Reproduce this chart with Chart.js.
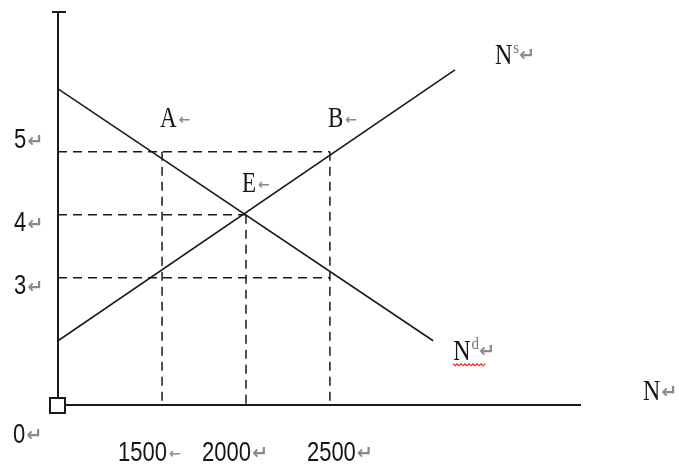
<!DOCTYPE html>
<html>
<head>
<meta charset="utf-8">
<script src="https://cdn.jsdelivr.net/npm/chart.js@4"></script>
<style>
html,body{margin:0;padding:0;background:#fff;}
#wrap{width:679px;height:466px;}
</style>
</head>
<body>
<div id="wrap"><canvas id="c" width="679" height="466"></canvas></div>
<script>
// ---- data ----
const demandX = [880, 3115];
const demandY = [6.0, 2.0];
const supplyX = [880, 3245];
const supplyY = [2.0, 6.3];
const priceLevels = [5, 4, 3];          // wage levels marked on the y axis
const priceLabels = ['5', '4', '3'];
const quantityLevels = [1500, 2000, 2500];
const quantityLabels = ['1500', '2000', '2500'];
const pointNames = ['A', 'B', 'E'];
const pointX = [1500, 2500, 2000];
const pointY = [5, 5, 4];
// dashed guide lines: horizontal lines run from the y axis to these x values
const hGuideY = [5, 4, 3];
const hGuideEndX = [2500, 2000, 2500];
// vertical guide lines run from the axis up to these y values
const vGuideX = [1500, 2000, 2500];
const vGuideTopY = [5, 4, 5];

const X_MIN = 880, X_MAX = 3990, Y_MIN = 0.98, Y_MAX = 7.22;

function seg(xs, ys) { return xs.map((x, i) => ({x: x, y: ys[i]})); }

const ink = '#1a1a1a';
const datasets = [];
datasets.push({label: 'Nd', data: seg(demandX, demandY), borderColor: ink, borderWidth: 1.6, pointRadius: 0, showLine: true});
datasets.push({label: 'Ns', data: seg(supplyX, supplyY), borderColor: ink, borderWidth: 1.6, pointRadius: 0, showLine: true});
hGuideY.forEach((y, i) => datasets.push({label: 'h' + i, data: seg([X_MIN, hGuideEndX[i]], [y, y]), borderColor: ink, borderWidth: 1.5, borderDash: [9, 6], pointRadius: 0, showLine: true}));
vGuideX.forEach((x, i) => datasets.push({label: 'v' + i, data: seg([x, x], [vGuideTopY[i], Y_MIN]), borderColor: ink, borderWidth: 1.5, borderDash: [9, 6], pointRadius: 0, showLine: true}));

function stretchText(ctx, text, x, y, font, color, sy) {
  ctx.save();
  ctx.font = font;
  ctx.fillStyle = color;
  ctx.textBaseline = 'middle';
  ctx.textAlign = 'left';
  ctx.translate(x, y);
  ctx.scale(1, sy);
  ctx.fillText(text, 0, 0);
  const w = ctx.measureText(text).width;
  ctx.restore();
  return w;
}
const markColor = '#8a8a8a';
function para(ctx, x, y) { stretchText(ctx, '\u21B5', x + 1, y + 1, 'bold 19px "DejaVu Sans"', markColor, 1); }
function arrowMark(ctx, x, y) { stretchText(ctx, '\u2190', x + 2, y + 1, 'bold 14px "DejaVu Sans"', markColor, 1); }

const digitFont = '22px "Liberation Sans"';
const letterFont = '23px "Liberation Serif"';
const textInk = '#151515';

const decor = {
  id: 'decor',
  beforeDraw(chart) {
    const ctx = chart.ctx;
    ctx.save(); ctx.fillStyle = '#fff'; ctx.fillRect(0, 0, chart.width, chart.height); ctx.restore();
  },
  afterDraw(chart) {
    const ctx = chart.ctx;
    const xs = chart.scales.x, ys = chart.scales.y;
    const a = chart.chartArea;
    ctx.save();
    // top cap of the y axis
    ctx.strokeStyle = ink; ctx.lineWidth = 2;
    ctx.beginPath(); ctx.moveTo(a.left - 6, a.top); ctx.lineTo(a.left + 8, a.top); ctx.stroke();
    // origin square
    ctx.fillStyle = '#fff';
    ctx.fillRect(a.left - 8, a.bottom - 7, 15, 15);
    ctx.strokeRect(a.left - 8, a.bottom - 7, 15, 15);
    ctx.restore();

    // y labels
    const yOff = [-11, 9, 9];
    priceLevels.forEach((v, i) => {
      const py = ys.getPixelForValue(v) + yOff[i];
      const w = stretchText(ctx, priceLabels[i], 14, py, digitFont, textInk, 1.25);
      para(ctx, 14 + w, py);
    });
    // origin label
    {
      const py = a.bottom + 30;
      const w = stretchText(ctx, '0', 13, py, digitFont, textInk, 1.25);
      para(ctx, 13 + w, py);
    }
    // x labels
    const xOff = [-44, -44, -23];
    quantityLevels.forEach((v, i) => {
      const px = xs.getPixelForValue(v) + xOff[i];
      const py = a.bottom + 48;
      const w = stretchText(ctx, quantityLabels[i], px, py, digitFont, textInk, 1.25);
      if (i === 0) arrowMark(ctx, px + w, py); else para(ctx, px + w, py);
    });
    // point labels
    const pOff = [[-2, -32], [-2, -32], [-4, -30]];
    pointNames.forEach((n, i) => {
      const px = xs.getPixelForValue(pointX[i]) + pOff[i][0];
      const py = ys.getPixelForValue(pointY[i]) + pOff[i][1];
      const w = stretchText(ctx, n, px, py, letterFont, textInk, 1.25);
      arrowMark(ctx, px + w, py);
    });
    // curve labels
    {
      const px = xs.getPixelForValue(supplyX[1]) + 40;
      const py = ys.getPixelForValue(supplyY[1]) - 14;
      const w = stretchText(ctx, 'N', px, py, '24px "Liberation Serif"', textInk, 1.25);
      const w2 = stretchText(ctx, 's', px + w + 1, py - 7, '15px "Liberation Serif"', '#777', 1.1);
      para(ctx, px + w + w2, py - 1);
    }
    {
      const px = xs.getPixelForValue(demandX[1]) + 20;
      const py = ys.getPixelForValue(demandY[1]) + 11;
      const w = stretchText(ctx, 'N', px, py, '24px "Liberation Serif"', textInk, 1.25);
      const w2 = stretchText(ctx, 'd', px + w + 1, py - 7, '15px "Liberation Serif"', '#777', 1.1);
      para(ctx, px + w + w2, py - 1);
      // red spell-check squiggle
      ctx.save();
      ctx.strokeStyle = '#e8302a'; ctx.lineWidth = 1.2;
      ctx.beginPath();
      const sy = py + 12;
      for (let k = 0; k <= 16; k++) {
        const xx = px + k * 2;
        const yy = sy + (k % 2 === 0 ? 0 : 2);
        if (k === 0) ctx.moveTo(xx, yy); else ctx.lineTo(xx, yy);
      }
      ctx.stroke();
      ctx.restore();
    }
    {
      const px = a.right + 63;
      const py = a.bottom - 13;
      const w = stretchText(ctx, 'N', px, py, '24px "Liberation Serif"', textInk, 1.25);
      para(ctx, px + w, py);
    }
  }
};

new Chart(document.getElementById('c'), {
  type: 'line',
  data: {datasets: datasets},
  options: {
    responsive: false,
    animation: false,
    layout: {padding: {left: 58, top: 12, right: 99, bottom: 61}},
    plugins: {legend: {display: false}, tooltip: {enabled: false}},
    scales: {
      x: {type: 'linear', min: X_MIN, max: X_MAX,
          ticks: {display: false}, grid: {display: false, drawTicks: false},
          border: {display: true, color: ink, width: 2}},
      y: {type: 'linear', min: Y_MIN, max: Y_MAX,
          ticks: {display: false}, grid: {display: false, drawTicks: false},
          border: {display: true, color: ink, width: 2}}
    }
  },
  plugins: [decor]
});
</script>
</body>
</html>
